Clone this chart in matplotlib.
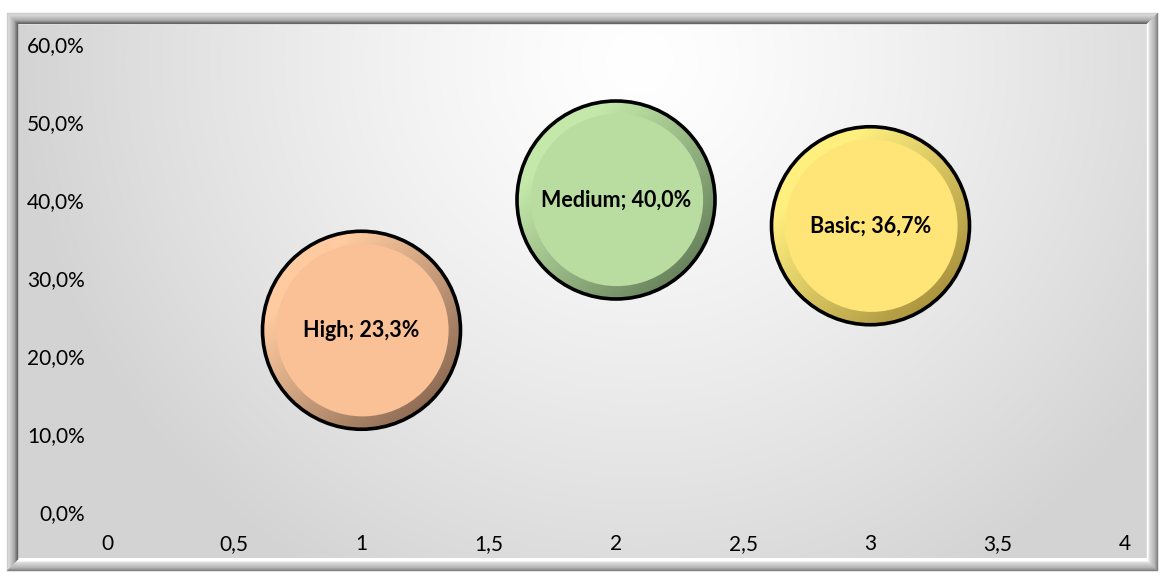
import numpy as np
import matplotlib
matplotlib.use("Agg")
import matplotlib.pyplot as plt
from matplotlib.patches import Ellipse, Polygon
from matplotlib.ticker import FixedLocator, FuncFormatter
from matplotlib.colors import to_rgb

plt.rcParams['font.family'] = ['Lato', 'DejaVu Sans']

# ---- data ----
categories = ["High", "Medium", "Basic"]
x_values = [1, 2, 3]
shares = [0.233, 0.400, 0.367]
bubble_sizes = [1.0, 1.0, 1.0]
fill_colors = ["#FAC096", "#B9DDA0", "#FFE477"]
shade_colors = ["#8A6952", "#66805A", "#A8913C"]
x_ticks = [0, 0.5, 1, 1.5, 2, 2.5, 3, 3.5, 4]
y_ticks = [0.0, 0.1, 0.2, 0.3, 0.4, 0.5, 0.6]

W, H = 1161, 573
fig = plt.figure(figsize=(W / 100, H / 100), dpi=100)
fig.patch.set_facecolor("white")

# ---- background panel and bevelled frame (pixel coordinates) ----
bg = fig.add_axes([0, 0, 1, 1])
bg.set_xlim(0, W)
bg.set_ylim(H, 0)
bg.axis("off")

px0, px1, py0, py1 = 18, 1147, 25, 558
gx = np.linspace(px0, px1, 600)
gy = np.linspace(py0, py1, 300)
GX, GY = np.meshgrid(gx, gy)
d = np.sqrt(((GX - 640) / 620) ** 2 + ((GY - 60) / 600) ** 2)
d = np.clip(d, 0, 1)
lum = 1.0 - 0.17 * d ** 1.3
bg.imshow(np.dstack([lum] * 3), extent=[px0, px1, py1, py0], aspect="auto",
          interpolation="bilinear", zorder=0)

ox0, ox1, oy0, oy1 = 7, 1158, 13, 571
n = 11
for i in range(n):
    t = i / (n - 1)
    lt = np.interp(t, [0, 0.15, 0.7, 1], [0.80, 0.86, 0.66, 0.40])
    rb = np.interp(t, [0, 0.3, 0.8, 1], [0.50, 0.70, 0.86, 1.0])
    a0 = (ox0 + i, oy0 + i, ox1 - i, oy1 - i)
    a1 = (ox0 + i + 1, oy0 + i + 1, ox1 - i - 1, oy1 - i - 1)
    sides = {
        "left": ([(a0[0], a0[1]), (a1[0], a1[1]), (a1[0], a1[3]), (a0[0], a0[3])], lt),
        "top": ([(a0[0], a0[1]), (a0[2], a0[1]), (a1[2], a1[1]), (a1[0], a1[1])], lt),
        "right": ([(a0[2], a0[1]), (a0[2], a0[3]), (a1[2], a1[3]), (a1[2], a1[1])], rb),
        "bottom": ([(a0[0], a0[3]), (a0[2], a0[3]), (a1[2], a1[3]), (a1[0], a1[3])], rb),
    }
    for pts, g in sides.values():
        bg.add_patch(Polygon(pts, closed=True, facecolor=(g, g, g),
                             edgecolor=(g, g, g), lw=0.3, zorder=2))

# ---- chart axes ----
ax = fig.add_axes([107 / W, (H - 512) / H, (1125 - 107) / W, (512 - 44) / H])
ax.patch.set_alpha(0)
for s in ax.spines.values():
    s.set_visible(False)

ax.set_xlim(0, 4)
ax.set_ylim(0, 0.6)

ppx = ax.transData.transform((1, 0))[0] - ax.transData.transform((0, 0))[0]
ppy = ax.transData.transform((0, 1))[1] - ax.transData.transform((0, 0))[1]
max_r_px = 99.0
max_size = max(bubble_sizes)

u = np.linspace(-1, 1, 200)
U, V = np.meshgrid(u, u)
tgrad = np.clip(((U - V) / 2 + 0.55) / 1.3, 0, 1)

for cat, xv, yv, sz, fc, sc in zip(categories, x_values, shares, bubble_sizes,
                                    fill_colors, shade_colors):
    r_px = max_r_px * np.sqrt(sz / max_size)
    rw, rh = r_px / ppx, r_px / ppy
    light = np.array(to_rgb(fc))
    dark = np.array(to_rgb(sc))
    light_hi = np.clip(light * 1.03 + 0.02, 0, 1)
    ring = light_hi[None, None, :] * (1 - tgrad[..., None]) + dark[None, None, :] * tgrad[..., None]

    clip = Ellipse((xv, yv), 2 * rw, 2 * rh, facecolor="none", edgecolor="none")
    ax.add_patch(clip)
    im = ax.imshow(ring, extent=[xv - rw, xv + rw, yv - rh, yv + rh], origin="lower",
                   aspect="auto", interpolation="bilinear", zorder=2)
    im.set_clip_path(clip)

    inner = 0.87
    ax.add_patch(Ellipse((xv + 0.01 * rw, yv), 2 * rw * inner, 2 * rh * inner,
                         facecolor=fc, edgecolor="none", zorder=3))
    ax.add_patch(Ellipse((xv, yv), 2 * rw, 2 * rh, facecolor="none",
                         edgecolor="black", lw=2.6, zorder=4))

    label = f"{cat}; {yv * 100:.1f}%".replace(".", ",")
    ax.text(xv, yv, label, ha="center", va="center", fontsize=15.5,
            fontweight="bold", color="black", zorder=5)

ax.set_xlim(0, 4)
ax.set_ylim(0, 0.6)
ax.xaxis.set_major_locator(FixedLocator(x_ticks))
ax.yaxis.set_major_locator(FixedLocator(y_ticks))
ax.xaxis.set_major_formatter(FuncFormatter(lambda v, p: f"{v:g}".replace(".", ",")))
ax.yaxis.set_major_formatter(FuncFormatter(lambda v, p: f"{v * 100:.1f}%".replace(".", ",")))
ax.tick_params(axis="both", length=0, labelsize=15, colors="black")
ax.tick_params(axis="x", pad=16)
ax.tick_params(axis="y", pad=16)

fig.savefig("out.png", dpi=100)
